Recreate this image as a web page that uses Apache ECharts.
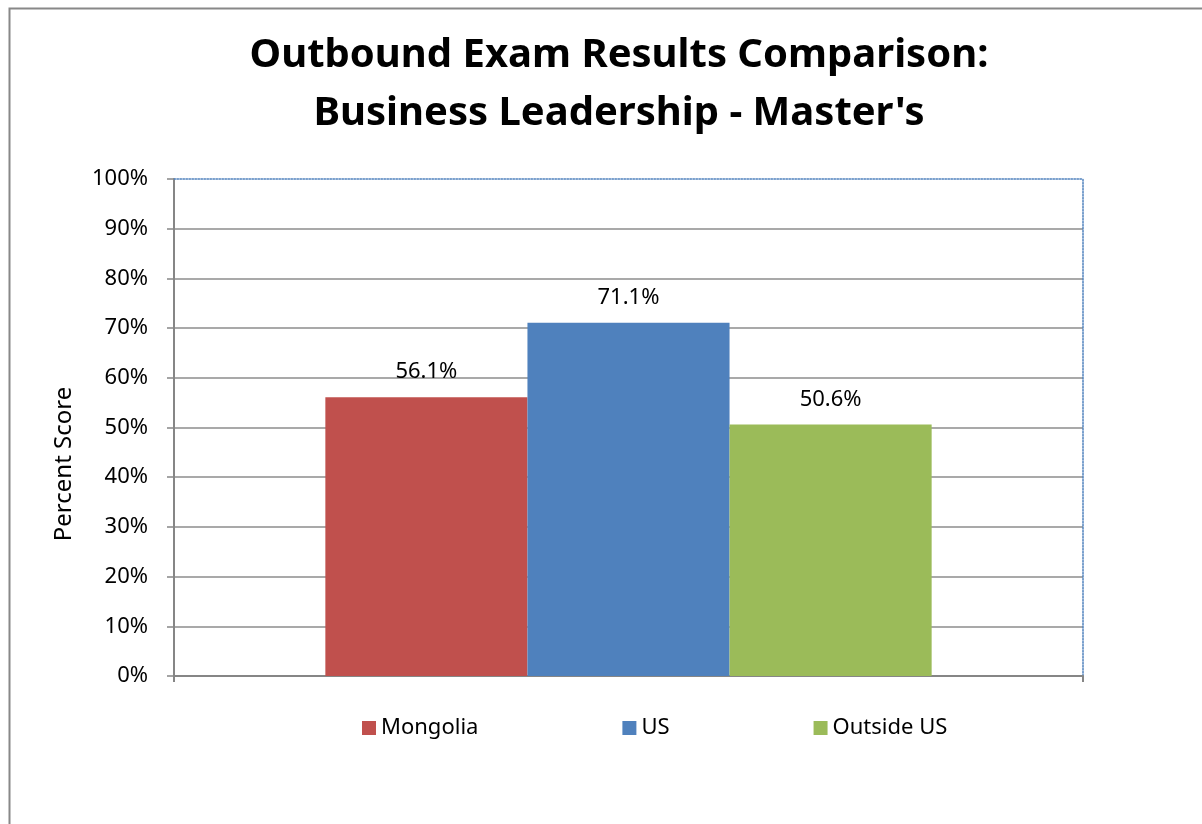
<!DOCTYPE html>
<html>
<head>
<meta charset="utf-8">
<script src="https://cdn.jsdelivr.net/npm/echarts@6/dist/echarts.min.js"></script>
<style>
  html, body { margin: 0; padding: 0; background: #fff; }
  #chart { width: 1202px; height: 824px; }
</style>
</head>
<body>
<div id="chart"></div>
<script>
  // values
  const categories = ['Business Leadership'];
  const seriesNames = ['Mongolia', 'US', 'Outside US'];
  const mongolia = [56.1];
  const us = [71.1];
  const outsideUS = [50.6];
  const colors = ['#C0504D', '#4F81BD', '#9BBB59'];

  const FONT = 'Noto Sans';

  const labelOption = {
    show: true,
    position: 'top',
    distance: 14,
    fontFamily: FONT,
    fontSize: 22,
    color: '#000',
    formatter: p => p.value.toFixed(1) + '%'
  };

  const chart = echarts.init(document.getElementById('chart'));

  chart.setOption({
    animation: false,
    color: colors,
    title: {
      text: 'Outbound Exam Results Comparison:\nBusiness Leadership - Master\'s',
      left: 614,
      top: 22,
      textAlign: 'center',
      textStyle: {
        fontFamily: FONT,
        fontSize: 40,
        fontWeight: 'bold',
        color: '#000',
        lineHeight: 58
      }
    },
    legend: {
      data: seriesNames,
      left: 357,
      top: 712,
      icon: 'rect',
      itemWidth: 14,
      itemHeight: 14,
      itemGap: 144,
      textStyle: { fontFamily: FONT, fontSize: 22, color: '#000' }
    },
    grid: {
      left: 174,
      right: 119,
      top: 179,
      bottom: 148,
      containLabel: false
    },
    xAxis: [
      {
        type: 'category',
        data: categories,
        axisLine: { lineStyle: { color: '#868686', width: 2 } },
        axisTick: { show: true, length: 6, lineStyle: { color: '#868686', width: 2 } },
        axisLabel: { show: false }
      },
      {
        type: 'category',
        data: categories,
        position: 'top',
        axisLine: { onZero: false, lineStyle: { color: '#4F81BD', width: 1.5, type: 'dotted' } },
        axisTick: { show: false },
        axisLabel: { show: false }
      }
    ],
    yAxis: [
      {
        type: 'value',
        min: 0,
        max: 100,
        interval: 10,
        axisLine: { show: true, lineStyle: { color: '#868686', width: 2 } },
        axisTick: { show: true, length: 7, lineStyle: { color: '#868686', width: 1.5 } },
        axisLabel: {
          margin: 26,
          fontFamily: FONT,
          fontSize: 22,
          color: '#000',
          formatter: '{value}%'
        },
        splitLine: {
          show: true,
          showMaxLine: false,
          lineStyle: { color: '#8C8C8C', width: 1.5 }
        }
      },
      {
        type: 'value',
        min: 0,
        max: 100,
        interval: 10,
        position: 'right',
        axisLine: { show: true, onZero: false, lineStyle: { color: '#4F81BD', width: 1.5, type: 'dotted' } },
        axisTick: { show: false },
        axisLabel: { show: false },
        splitLine: { show: false }
      }
    ],
    graphic: [
      {
        type: 'rect',
        left: 7,
        top: 6,
        shape: { width: 1220, height: 840 },
        style: { fill: 'none', stroke: '#888888', lineWidth: 2 },
        silent: true,
        z: -10
      },
      {
        type: 'text',
        x: 64,
        y: 464,
        rotation: Math.PI / 2,
        style: {
          text: 'Percent Score',
          fontFamily: FONT,
          fontSize: 24,
          fill: '#000',
          align: 'center',
          verticalAlign: 'middle'
        }
      }
    ],
    series: [
      {
        name: seriesNames[0],
        type: 'bar',
        barGap: 0,
        barCategoryGap: '33.3%',
        label: labelOption,
        data: mongolia
      },
      {
        name: seriesNames[1],
        type: 'bar',
        barGap: 0,
        barCategoryGap: '33.3%',
        label: labelOption,
        data: us
      },
      {
        name: seriesNames[2],
        type: 'bar',
        barGap: 0,
        barCategoryGap: '33.3%',
        label: labelOption,
        data: outsideUS
      }
    ]
  });
</script>
</body>
</html>
